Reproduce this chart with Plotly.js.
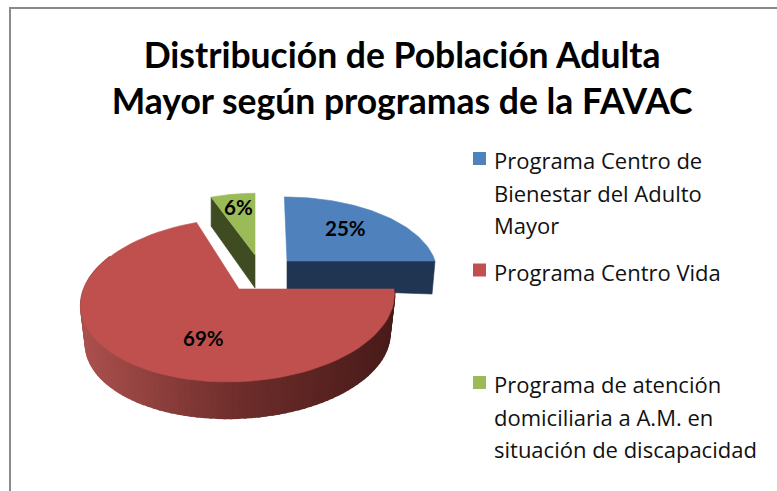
<!DOCTYPE html>
<html><head><meta charset="utf-8">
<script src="https://cdn.plot.ly/plotly-3.0.1.min.js"></script>
<style>html,body{margin:0;padding:0;background:#fff}</style></head>
<body><div id="chart" style="width:777px;height:491px"></div>
<script>
const chartTitle = 'Distribución de Población Adulta<br>Mayor según programas de la FAVAC';
const categories = ['Programa Centro de Bienestar del Adulto Mayor','Programa Centro Vida','Programa de atención domiciliaria a A.M. en situación de discapacidad'];
const shares = [25, 69, 6];
const legendLines = [['Programa Centro de','Bienestar del Adulto','Mayor'],['Programa Centro Vida'],['Programa de atención','domiciliaria a A.M. en','situación de discapacidad']];
const topColors = ['#4f81bd','#c0504d','#9bbb59'];
const FONT = 'Lato, Carlito, sans-serif';
const LEGEND_FONT = '"Open Sans", Lato, sans-serif';

// Perspective projection of each (exploded) slice
const view = [
  {ax:287,ay:261,f:148,g:72.6,p:.134,shear:-3,s:.98,dc:28,dr:33,lx:345,ly:228},
  {ax:239,ay:289,f:155,g:80.5,p:.134,shear:10,s:.97,dc:39,dr:39,lx:203,ly:338},
  {ax:255,ay:255,f:134,g:70,p:.134,shear:0,s:1,dc:33,dr:29,lx:238,ly:207}
];
function rim(v,deg,r,bottom){
  const t=deg*Math.PI/180, X=r*Math.sin(t), Y=r*Math.cos(t), k=1+v.p*Y, s=bottom?v.s:1;
  return [v.ax+s*(v.f*X+v.shear*Y)/k, v.ay-s*v.g*Y/k+(bottom?v.dc+(v.dr-v.dc)*r:0)];
}
function poly(pts,color,name,lw){
  return {type:'scatter',mode:'lines',x:pts.map(p=>p[0]),y:pts.map(p=>p[1]),fill:'toself',fillcolor:color,
    line:{color:color,width:lw||.6},hoverinfo:'skip',showlegend:false,name:name||''};
}
function mix(a,b,t){return 'rgb('+a.map((c,i)=>Math.round(c+(b[i]-c)*t)).join(',')+')';}
function wallColor(x){
  const t=Math.max(0,Math.min(1,(x-82)/312));
  return t<.5?mix([170,80,77],[110,45,43],t/.5):mix([110,45,43],[72,27,25],(t-.5)/.5);
}
let a=0; const spans=shares.map(v=>{const r=[a,a+v*3.6];a=r[1];return r;});
function topFace(i){
  const v=view[i],[s,e]=spans[i],pts=[rim(v,0,0)];
  for(let n=0;n<=72;n++)pts.push(rim(v,s+(e-s)*n/72,1));
  pts.push(rim(v,0,0));return poly(pts,topColors[i],categories[i]);
}
function cutFace(i,deg,color){
  const v=view[i];
  return poly([rim(v,0,0),rim(v,deg,1),rim(v,deg,1,true),rim(v,0,0,true),rim(v,0,0)],color);
}
const traces=[];
traces.push(cutFace(0,spans[0][1],'#1f3552'));
traces.push(topFace(0));
traces.push(cutFace(2,spans[2][0],'#3f4b21'));
traces.push(topFace(2));
// red outer wall as shaded strips
const N=90, wallStart=spans[1][0], wallEnd=295;
for(let n=0;n<N;n++){
  const d1=wallStart+(wallEnd-wallStart)*n/N,d2=wallStart+(wallEnd-wallStart)*(n+1)/N,v=view[1];
  const p=[rim(v,d1,1),rim(v,d2,1),rim(v,d2,1,true),rim(v,d1,1,true)];
  traces.push(poly([...p,p[0]],wallColor((p[0][0]+p[1][0])/2),'',2));
}
traces.push(topFace(1));
// legend swatches
const swatchY=[158.5,270,382.5];
categories.forEach((c,i)=>traces.push({type:'scatter',mode:'markers',x:[479.5],y:[swatchY[i]],name:c,
  marker:{symbol:'square',size:13,color:topColors[i]},hoverinfo:'name',showlegend:false}));

const annotations=[];
shares.forEach((v,i)=>annotations.push({x:view[i].lx,y:view[i].ly,xref:'x',yref:'y',text:v+'%',showarrow:false,
  font:{family:FONT,size:20.5,color:'#000',weight:700}}));
const lineTop=[160,272,384];
legendLines.forEach((lines,i)=>lines.forEach((t,j)=>annotations.push({x:491.5,y:lineTop[i]+j*32.5,xref:'x',yref:'y',
  text:t,showarrow:false,xanchor:'left',yanchor:'middle',font:{family:LEGEND_FONT,size:22,color:'#111'}})));

Plotly.newPlot('chart',traces,{
  width:777,height:491,margin:{l:0,r:0,t:0,b:0},paper_bgcolor:'#fff',plot_bgcolor:'#fff',showlegend:false,
  title:{text:chartTitle,x:.5175,xanchor:'center',y:.862,yanchor:'bottom',font:{family:FONT,size:35.5,color:'#000',weight:700}},
  xaxis:{range:[0,777],visible:false,fixedrange:true},
  yaxis:{range:[491,0],visible:false,fixedrange:true},
  annotations:annotations,
  shapes:[
    {type:'line',xref:'x',yref:'y',x0:10,x1:10,y0:8,y1:491,line:{color:'#8a8a8a',width:2}},
    {type:'line',xref:'x',yref:'y',x0:9,x1:777,y0:8,y1:8,line:{color:'#8a8a8a',width:2}}
  ]
},{displayModeBar:false,staticPlot:true});
</script></body></html>
